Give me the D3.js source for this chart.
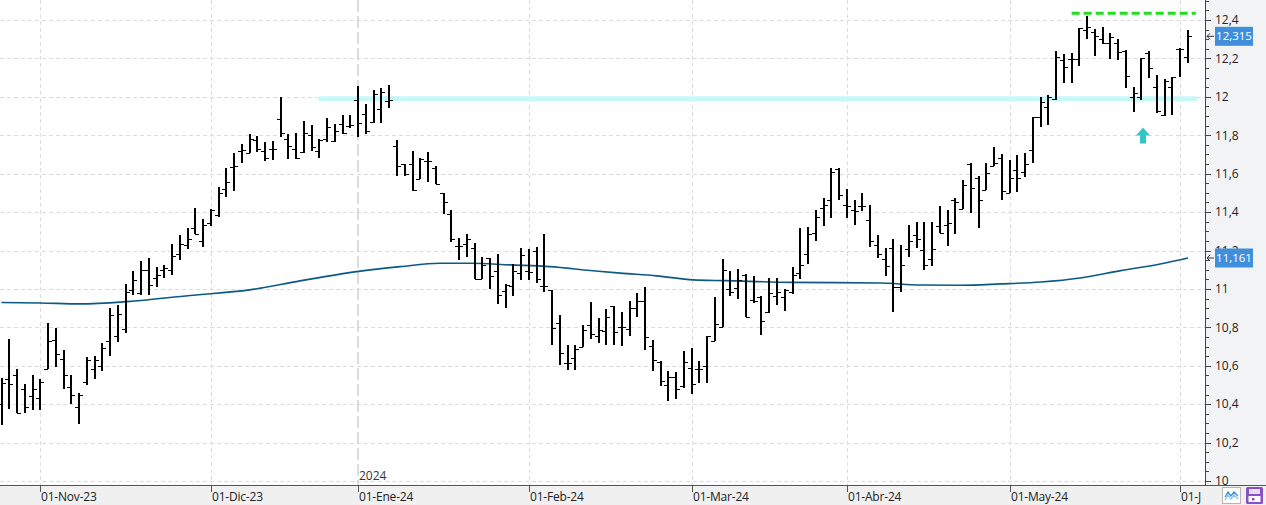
<!DOCTYPE html>
<html><head><meta charset="utf-8">
<script src="https://cdn.jsdelivr.net/npm/d3@7/dist/d3.min.js"></script>
<style>
body{margin:0;background:#fff;overflow:hidden}
svg{display:block;font-family:"Open Sans","Noto Sans",sans-serif}
</style>
</head><body>
<svg id="c" width="1266" height="505"></svg>
<script>
// ---------- DATA ----------
const firstIndex = -5; // bar index of the first bar (01-Nov-23 = index 0)
const opens  = [10.40,10.53,10.552,10.478,10.443,10.431,10.582,10.735,10.636,10.49,10.384,10.518,10.582,10.601,10.728,10.756,10.79,10.992,10.98,11.101,11.058,11.096,11.096,11.18,11.23,11.316,11.25,11.345,11.384,11.519,11.637,11.719,11.71,11.774,11.717,11.727,11.882,11.783,11.731,11.715,11.802,11.719,11.778,11.769,11.856,11.849,11.984,11.911,11.868,11.936,11.977,11.742,11.649,11.649,11.574,11.664,11.63,11.499,11.392,11.225,11.232,11.215,11.05,11.159,11.091,10.987,11.013,11.084,11.091,11.197,11.013,10.992,10.824,10.616,10.642,10.698,10.8125,10.757,10.781,10.913,10.8,10.793,10.901,10.939,10.705,10.62,10.502,10.54,10.493,10.589,10.583,10.597,10.731,10.802,10.997,11.005,11.075,10.944,10.958,10.88,10.965,10.956,10.982,11.084,11.18,11.293,11.421,11.461,11.626,11.435,11.412,11.43,11.357,11.23,11.154,11.215,11.01,11.206,11.282,11.201,11.157,11.326,11.334,11.461,11.418,11.649,11.579,11.517,11.64,11.68,11.501,11.619,11.607,11.723,11.897,11.948,11.989,12.192,12.195,12.195,12.348,12.336,12.3,12.278,12.278,12.239,11.997,12.001,12.226,12.053,11.905,12.05,12.247,12.206];
const highs  = [10.535,10.74,10.582,10.506,10.552,10.532,10.82,10.795,10.683,10.55,10.457,10.646,10.651,10.717,10.901,10.915,11.026,11.091,11.143,11.16,11.114,11.126,11.232,11.282,11.318,11.42,11.363,11.418,11.528,11.628,11.707,11.752,11.804,11.797,11.767,11.769,12.0,11.809,11.811,11.875,11.852,11.78,11.892,11.858,11.906,11.906,12.054,11.964,12.035,12.047,12.061,11.777,11.652,11.716,11.683,11.711,11.638,11.499,11.409,11.267,11.288,11.241,11.166,11.159,11.183,11.027,11.131,11.215,11.209,11.218,11.288,10.992,10.862,10.706,10.706,10.812,10.93,10.849,10.896,10.913,10.878,10.939,10.979,11.01,10.733,10.623,10.575,10.568,10.679,10.693,10.627,10.757,10.958,11.156,11.095,11.104,11.078,11.069,10.962,11.057,11.057,11.0,11.114,11.317,11.322,11.409,11.473,11.631,11.631,11.522,11.461,11.501,11.439,11.279,11.215,11.258,11.227,11.334,11.348,11.348,11.348,11.43,11.412,11.475,11.569,11.657,11.586,11.657,11.74,11.702,11.671,11.697,11.706,11.893,11.997,12.009,12.239,12.223,12.23,12.36,12.423,12.351,12.362,12.331,12.3,12.244,12.049,12.2,12.239,12.114,12.091,12.101,12.256,12.348];
const lows   = [10.29,10.374,10.353,10.356,10.37,10.37,10.582,10.596,10.481,10.401,10.299,10.50,10.533,10.575,10.651,10.726,10.773,10.966,10.966,10.966,11.009,11.056,11.075,11.148,11.206,11.285,11.219,11.328,11.377,11.479,11.51,11.656,11.71,11.715,11.667,11.672,11.792,11.675,11.675,11.705,11.719,11.682,11.766,11.767,11.806,11.84,11.792,11.809,11.866,11.866,11.944,11.59,11.586,11.508,11.574,11.557,11.548,11.392,11.244,11.15,11.166,11.05,11.05,10.999,10.923,10.902,10.961,11.048,11.044,11.032,10.982,10.709,10.602,10.579,10.579,10.698,10.74,10.719,10.707,10.707,10.701,10.753,10.854,10.68,10.571,10.493,10.415,10.427,10.484,10.453,10.51,10.51,10.731,10.802,10.962,10.95,10.852,10.927,10.762,10.875,10.918,10.886,10.975,11.053,11.131,11.249,11.329,11.371,11.461,11.371,11.334,11.404,11.218,11.161,11.067,10.88,10.984,11.166,11.215,11.1,11.119,11.293,11.223,11.287,11.418,11.397,11.317,11.513,11.64,11.462,11.497,11.502,11.584,11.657,11.844,11.853,11.983,12.07,12.07,12.162,12.3,12.214,12.273,12.195,12.192,12.044,11.923,11.983,12.1,11.914,11.9,11.905,12.105,12.178];
const closes = [10.51,10.504,10.353,10.384,10.478,10.514,10.73,10.66,10.55,10.448,10.448,10.632,10.629,10.693,10.863,10.867,10.985,11.049,11.101,11.018,11.074,11.108,11.169,11.233,11.258,11.285,11.332,11.41,11.497,11.559,11.642,11.722,11.778,11.726,11.679,11.729,11.811,11.743,11.679,11.811,11.741,11.776,11.845,11.82,11.81,11.852,11.863,11.82,12.014,12.026,11.983,11.642,11.6,11.517,11.675,11.664,11.548,11.451,11.26,11.225,11.258,11.05,11.123,11.069,10.966,11.018,11.091,11.175,11.088,11.05,11.013,10.796,10.668,10.616,10.688,10.785,10.766,10.786,10.854,10.778,10.8,10.901,10.939,10.75,10.632,10.519,10.54,10.479,10.62,10.505,10.583,10.757,10.819,11.097,10.986,11.049,10.852,10.936,10.835,10.979,10.984,10.995,11.074,11.123,11.287,11.374,11.435,11.609,11.491,11.432,11.404,11.43,11.249,11.183,11.119,11.01,11.123,11.249,11.258,11.126,11.209,11.293,11.343,11.452,11.539,11.527,11.461,11.605,11.653,11.509,11.575,11.575,11.65,11.893,11.971,11.997,12.209,12.153,12.195,12.36,12.362,12.317,12.282,12.31,12.235,12.11,12.018,12.2,12.148,11.926,12.082,12.101,12.247,12.315];

// moving average, read at points along the curve (bar index, value)
const maIdx  = [-5,0,5.1,11.2,19.3,27,33.5,40.8,46.4,51.5,55.4,60.6,65.7,70.9,74.8,79.5,84.2,88.3,96.7,108.3,113.4,118.6,123.8,129,134.1,139.2,144.4,148];
const maVals = [10.929,10.927,10.922,10.934,10.966,10.995,11.042,11.09,11.116,11.134,11.134,11.125,11.116,11.096,11.082,11.068,11.047,11.043,11.034,11.031,11.02,11.019,11.026,11.036,11.057,11.094,11.13,11.161];

// x axis month ticks (bar index of first session of each month)
const monthIdx    = [0,22,41,63,84,104,125,147];
const monthLabels = ["01-Nov-23","01-Dic-23","01-Ene-24","01-Feb-24","01-Mar-24","01-Abr-24","01-May-24","01-Jun-24"];
const yearIdx = 41, yearLabel = "2024";

// y axis
const priceTicks  = [10,10.2,10.4,10.6,10.8,11,11.2,11.4,11.6,11.8,12,12.2,12.4];
const priceLabels = ["10","10,2","10,4","10,6","10,8","11","11,2","11,4","11,6","11,8","12","12,2","12,4"];

// annotations
const supportLevel = 11.99, supportFrom = 35.9, supportTo = 149.2;
const resistLevel = 12.435, resistFrom = 133, resistTo = 149;
const arrowIdx = 142.2, arrowPrice = 11.84;
const lastPrice = 12.315, lastPriceLabel = "12,315";
const maLast = 11.161, maLastLabel = "11,161";

// ---------- DRAW ----------
const W = 1266, H = 505, plotR = 1205, plotB = 485;
const svg = d3.select("#c");
const x = d3.scaleLinear().domain([-5, 148]).range([1.5, 1188]);
const y = d3.scaleLinear().domain([10, 12.4]).range([481, 20]);

const bars = opens.map((o, i) => ({i: firstIndex + i, o, h: highs[i], l: lows[i], c: closes[i]}));

svg.append("defs").append("clipPath").attr("id","plot")
  .append("rect").attr("x",0).attr("y",0).attr("width",plotR).attr("height",plotB);
svg.select("defs").append("clipPath").attr("id","xl")
  .append("rect").attr("x",0).attr("y",plotB).attr("width",1201).attr("height",H-plotB);

// right panel + bottom strip backgrounds
svg.append("rect").attr("x",plotR).attr("y",0).attr("width",W-plotR).attr("height",plotB).attr("fill","#f2f3f5");
svg.append("rect").attr("x",0).attr("y",plotB).attr("width",W).attr("height",H-plotB).attr("fill","#f0f0f0");

const plot = svg.append("g").attr("clip-path","url(#plot)");

// horizontal grid
plot.selectAll("line.hg").data(priceTicks).join("line")
  .attr("x1",0).attr("x2",plotR)
  .attr("y1",d=>Math.round(y(d))+0.5).attr("y2",d=>Math.round(y(d))+0.5)
  .attr("stroke","#dcdcdc").attr("stroke-dasharray","4,3");
// vertical grid
plot.selectAll("line.vg").data(monthIdx.filter(d=>d!==yearIdx)).join("line")
  .attr("x1",d=>Math.round(x(d))+0.5).attr("x2",d=>Math.round(x(d))+0.5)
  .attr("y1",0).attr("y2",plotB)
  .attr("stroke","#dcdcdc").attr("stroke-dasharray","4,3");
// year separator
plot.append("line")
  .attr("x1",Math.round(x(yearIdx))).attr("x2",Math.round(x(yearIdx)))
  .attr("y1",0).attr("y2",plotB)
  .attr("stroke","#d2d2d2").attr("stroke-width",1.5).attr("stroke-dasharray","12,4");
plot.append("text").attr("x",Math.round(x(yearIdx))+1).attr("y",480)
  .attr("font-size",12).attr("fill","#333").text(yearLabel);

// support band (cyan)
plot.append("line")
  .attr("x1",x(supportFrom)).attr("x2",x(supportTo))
  .attr("y1",y(supportLevel)).attr("y2",y(supportLevel))
  .attr("stroke","#c6f8fa").attr("stroke-width",5);

// moving average
plot.append("path")
  .datum(maIdx.map((d,k)=>[d,maVals[k]]))
  .attr("fill","none").attr("stroke","#0c5a84").attr("stroke-width",1.6)
  .attr("d", d3.line().x(d=>x(d[0])).y(d=>y(d[1])).curve(d3.curveMonotoneX));

// OHLC bars
const bg = plot.append("g").attr("stroke","#000").attr("shape-rendering","crispEdges");
bg.selectAll("line.hl").data(bars).join("line")
  .attr("x1",d=>Math.round(x(d.i))).attr("x2",d=>Math.round(x(d.i)))
  .attr("y1",d=>y(d.h)).attr("y2",d=>y(d.l)).attr("stroke-width",2);
bg.selectAll("line.op").data(bars).join("line")
  .attr("x1",d=>Math.round(x(d.i))-4).attr("x2",d=>Math.round(x(d.i)))
  .attr("y1",d=>Math.round(y(d.o))+0.5).attr("y2",d=>Math.round(y(d.o))+0.5).attr("stroke-width",1.5);
bg.selectAll("line.cl").data(bars).join("line")
  .attr("x1",d=>Math.round(x(d.i))).attr("x2",d=>Math.round(x(d.i))+4)
  .attr("y1",d=>Math.round(y(d.c))+0.5).attr("y2",d=>Math.round(y(d.c))+0.5).attr("stroke-width",1.5);

// resistance dashed green
plot.append("line")
  .attr("x1",x(resistFrom)).attr("x2",x(resistTo))
  .attr("y1",y(resistLevel)).attr("y2",y(resistLevel))
  .attr("stroke","#1ee11e").attr("stroke-width",3).attr("stroke-dasharray","8,4");

// cyan arrow
const ax = x(arrowIdx), ay = y(arrowPrice);
plot.append("path")
  .attr("d",`M${ax},${ay} L${ax+7},${ay+8} L${ax+3},${ay+8} L${ax+3},${ay+16} L${ax-3},${ay+16} L${ax-3},${ay+8} L${ax-7},${ay+8} Z`)
  .attr("fill","#33c4c6");

// right axis
svg.append("line").attr("x1",plotR+0.5).attr("x2",plotR+0.5).attr("y1",0).attr("y2",plotB)
  .attr("stroke","#444");
const minor = d3.range(10, 12.51, 0.05);
svg.selectAll("line.mt").data(minor).join("line")
  .attr("x1",plotR).attr("x2",plotR+4)
  .attr("y1",d=>Math.round(y(d))+0.5).attr("y2",d=>Math.round(y(d))+0.5)
  .attr("stroke","#444");
svg.selectAll("line.Mt").data(priceTicks).join("line")
  .attr("x1",plotR).attr("x2",plotR+6)
  .attr("y1",d=>Math.round(y(d))+0.5).attr("y2",d=>Math.round(y(d))+0.5)
  .attr("stroke","#444");
svg.selectAll("text.yl").data(priceTicks).join("text")
  .attr("x",plotR+10).attr("y",d=>y(d)).attr("dy","0.36em")
  .attr("font-size",12).attr("fill","#222").text((d,k)=>priceLabels[k]);

// price boxes
function priceBox(v, label){
  const cy = y(v);
  svg.append("rect").attr("x",1215).attr("y",cy-9.5).attr("width",38).attr("height",19).attr("fill","#3f8fdc");
  svg.append("text").attr("x",1234).attr("y",cy).attr("dy","0.36em").attr("text-anchor","middle")
    .attr("font-size",11.5).attr("fill","#fff").text(label);
  svg.append("path").attr("d",`M1207,${cy} L1214,${cy} M1210,${cy-3} L1207,${cy} L1210,${cy+3}`)
    .attr("stroke","#333").attr("fill","none").attr("stroke-width",1);
}
priceBox(lastPrice, lastPriceLabel);
priceBox(maLast, maLastLabel);

// bottom axis
svg.append("line").attr("x1",0).attr("x2",W).attr("y1",plotB+0.5).attr("y2",plotB+0.5).attr("stroke","#555");
const xl = svg.append("g").attr("clip-path","url(#xl)");
xl.selectAll("line").data(monthIdx).join("line")
  .attr("x1",d=>Math.round(x(d))+0.5).attr("x2",d=>Math.round(x(d))+0.5)
  .attr("y1",plotB).attr("y2",plotB+7).attr("stroke","#555");
xl.selectAll("text").data(monthIdx).join("text")
  .attr("x",d=>Math.round(x(d))+1).attr("y",501)
  .attr("font-size",12).attr("letter-spacing","-0.2").attr("fill","#222").text((d,k)=>monthLabels[k]);

// bottom-right icons
const ic = svg.append("g");
ic.append("rect").attr("x",1222.5).attr("y",487.5).attr("width",18).attr("height",16).attr("fill","#fff").attr("stroke","#b5b5b5");
ic.append("path").attr("d","M1225,497 L1228,492 L1231,496 L1234,492 L1238,496").attr("fill","none").attr("stroke","#3b8fd8").attr("stroke-width",1.3);
ic.append("path").attr("d","M1225,500 L1228,495 L1231,499 L1234,495 L1238,499").attr("fill","none").attr("stroke","#8cc2ee").attr("stroke-width",1.3);
ic.append("rect").attr("x",1246).attr("y",487).attr("width",17).attr("height",17).attr("rx",1.5).attr("fill","#8a4fc4");
ic.append("rect").attr("x",1249).attr("y",489).attr("width",11).attr("height",5).attr("fill","#e8dcf5");
ic.append("rect").attr("x",1248.5).attr("y",496).attr("width",12).attr("height",6).attr("fill","#fff");
ic.append("rect").attr("x",1252).attr("y",498).attr("width",2.5).attr("height",2.5).attr("fill","#8a4fc4");
</script>
</body></html>
